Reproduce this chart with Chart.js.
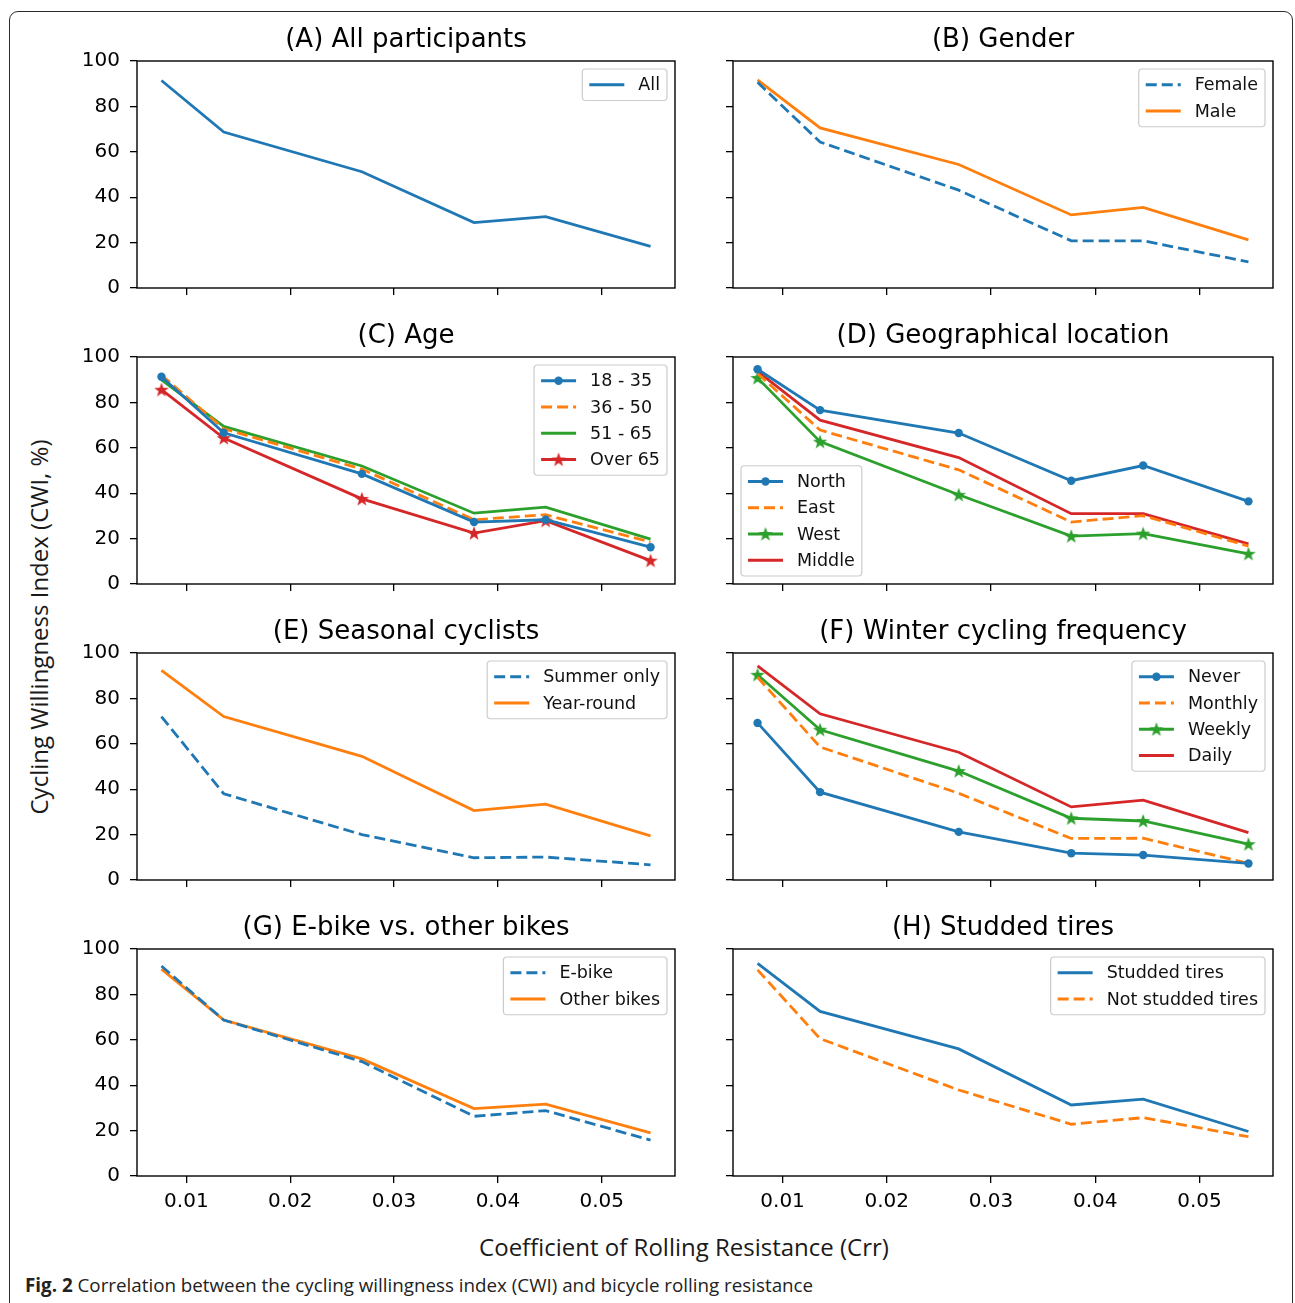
<!DOCTYPE html>
<html>
<head>
<meta charset="utf-8">
<script src="https://cdn.jsdelivr.net/npm/chart.js@4.4.1/dist/chart.umd.min.js"></script>
<style>
  html, body { margin: 0; padding: 0; background: #fff; overflow: hidden; }
  body { width: 1295px; height: 1303px; position: relative; }
  #frame { position: absolute; left: 9px; top: 11px; width: 1282px; height: 1310px; border: 1.5px solid #2b2b2b; border-radius: 9px; }
  canvas { position: absolute; }
  .axis-label { position: absolute; font-family: "Open Sans", sans-serif; font-size: 24px; color: #1a1a1a; white-space: nowrap; }
  #ylabel { left: 38px; top: 627px; transform: translate(-50%, -50%) rotate(-90deg); }
  #xlabel { left: 684px; top: 1246px; transform: translate(-50%, -50%); }
  #caption { position: absolute; left: 25px; top: 1285px; transform: translateY(-50%); font-family: "Open Sans", sans-serif; font-size: 18.8px; color: #222; white-space: nowrap; }
</style>
</head>
<body>
<div id="frame"></div>
<div class="axis-label" id="ylabel">Cycling Willingness Index (CWI, %)</div>
<div class="axis-label" id="xlabel">Coefficient of Rolling Resistance (Crr)</div>
<div id="caption"><b>Fig. 2</b> Correlation between the cycling willingness index (CWI) and bicycle rolling resistance</div>
<script>
// rolling resistance values shared by all panels
const crr = [0.0076, 0.0136, 0.0269, 0.0377, 0.0446, 0.0547];
const xTicks = [0.01, 0.02, 0.03, 0.04, 0.05];
const yTicks = [0, 20, 40, 60, 80, 100];

const allParticipants = [91.4, 68.7, 51.2, 28.8, 31.4, 18.3];
const female = [90.6, 64.3, 43.1, 20.8, 20.8, 11.5];
const male = [91.7, 70.5, 54.4, 32.2, 35.5, 21.2];
const age18to35 = [91.3, 66.6, 48.5, 27.3, 28.3, 16.2];
const age36to50 = [92.0, 68.4, 50.6, 28.3, 30.5, 18.5];
const age51to65 = [89.9, 69.4, 52.0, 31.2, 33.9, 19.8];
const ageOver65 = [85.6, 64.3, 37.5, 22.4, 27.9, 10.3];
const north = [94.6, 76.6, 66.5, 45.5, 52.2, 36.4];
const east = [92.7, 67.8, 50.3, 27.3, 30.1, 16.7];
const west = [90.8, 62.7, 39.3, 21.1, 22.2, 13.3];
const middle = [93.7, 72.2, 55.7, 31.0, 31.0, 17.7];
const summerOnly = [72.0, 38.0, 20.0, 9.8, 10.1, 6.7];
const yearRound = [92.4, 72.0, 54.5, 30.6, 33.4, 19.4];
const never = [69.2, 38.7, 21.2, 11.8, 11.0, 7.3];
const monthly = [89.3, 58.6, 38.2, 18.3, 18.4, 7.3];
const weekly = [90.4, 66.2, 48.0, 27.2, 26.0, 15.8];
const daily = [94.3, 73.2, 56.3, 32.2, 35.2, 20.9];
const eBike = [92.5, 68.7, 50.4, 26.3, 28.8, 15.8];
const otherBikes = [91.1, 68.7, 51.6, 29.7, 31.7, 19.0];
const studded = [93.7, 72.5, 56.0, 31.3, 33.9, 19.6];
const notStudded = [90.8, 60.5, 37.9, 22.8, 25.7, 17.3];

const BLUE = '#1f77b4', ORANGE = '#ff7f0e', GREEN = '#2ca02c', RED = '#d62728';

const panels = [
  { title: '(A) All participants', legend: 'upper right', series: [
    { label: 'All', data: allParticipants, color: BLUE }] },
  { title: '(B) Gender', legend: 'upper right', series: [
    { label: 'Female', data: female, color: BLUE, dashed: true },
    { label: 'Male', data: male, color: ORANGE }] },
  { title: '(C) Age', legend: 'upper right', series: [
    { label: '18 - 35', data: age18to35, color: BLUE, marker: 'circle' },
    { label: '36 - 50', data: age36to50, color: ORANGE, dashed: true },
    { label: '51 - 65', data: age51to65, color: GREEN },
    { label: 'Over 65', data: ageOver65, color: RED, marker: 'star' }] },
  { title: '(D) Geographical location', legend: 'lower left', series: [
    { label: 'North', data: north, color: BLUE, marker: 'circle' },
    { label: 'East', data: east, color: ORANGE, dashed: true },
    { label: 'West', data: west, color: GREEN, marker: 'star' },
    { label: 'Middle', data: middle, color: RED }] },
  { title: '(E) Seasonal cyclists', legend: 'upper right', series: [
    { label: 'Summer only', data: summerOnly, color: BLUE, dashed: true },
    { label: 'Year-round', data: yearRound, color: ORANGE }] },
  { title: '(F) Winter cycling frequency', legend: 'upper right', series: [
    { label: 'Never', data: never, color: BLUE, marker: 'circle' },
    { label: 'Monthly', data: monthly, color: ORANGE, dashed: true },
    { label: 'Weekly', data: weekly, color: GREEN, marker: 'star' },
    { label: 'Daily', data: daily, color: RED }] },
  { title: '(G) E-bike vs. other bikes', legend: 'upper right', series: [
    { label: 'E-bike', data: eBike, color: BLUE, dashed: true },
    { label: 'Other bikes', data: otherBikes, color: ORANGE }] },
  { title: '(H) Studded tires', legend: 'upper right', series: [
    { label: 'Studded tires', data: studded, color: BLUE },
    { label: 'Not studded tires', data: notStudded, color: ORANGE, dashed: true }] },
];

// grid geometry (plot area of each panel)
const colLeft = [137, 733];
const colWidth = [538, 540];
const rowTop = [61, 357, 653, 949];
const PLOT_H = 227;
const Y_AXIS_W = 75;
const TOP_SPACE = 45;
const RIGHT_PAD = 12;
const TICK_FONT = { family: 'DejaVu Sans', size: 20 };
const LEGEND_FS = 17.5;

const xSpan = Math.max(...crr) - Math.min(...crr);
const xMin = Math.min(...crr) - 0.05 * xSpan;
const xMax = Math.max(...crr) + 0.05 * xSpan;

const starCache = {};
function starImage(color) {
  if (starCache[color]) return starCache[color];
  const c = document.createElement('canvas');
  c.width = 18; c.height = 18;
  const g = c.getContext('2d');
  g.beginPath();
  for (let i = 0; i < 10; i++) {
    const r = i % 2 === 0 ? 7.6 : 3.1;
    const a = -Math.PI / 2 + i * Math.PI / 5;
    const px = 9 + r * Math.cos(a), py = 9.5 + r * Math.sin(a);
    if (i === 0) g.moveTo(px, py); else g.lineTo(px, py);
  }
  g.closePath();
  g.fillStyle = color;
  g.fill();
  starCache[color] = c;
  return c;
}

const boxPlugin = {
  id: 'boxPlugin',
  afterDatasetsDraw(chart) {
    const { ctx, chartArea: a } = chart;
    ctx.save();
    ctx.strokeStyle = '#000';
    ctx.lineWidth = 1.4;
    ctx.strokeRect(a.left, a.top, a.right - a.left, a.bottom - a.top);
    ctx.restore();
  }
};

const legendPlugin = {
  id: 'mplLegend',
  afterDraw(chart, args, opts) {
    const { ctx, chartArea: a } = chart;
    const fs = LEGEND_FS;
    const pad = 0.4 * fs, handle = 2 * fs, gap = 0.8 * fs, pitch = 1.5 * fs;
    const sets = chart.data.datasets;
    ctx.save();
    ctx.font = fs + 'px "DejaVu Sans"';
    const textW = Math.max(...sets.map(d => ctx.measureText(d.label).width));
    const w = pad + handle + gap + textW + pad;
    const h = 2 * pad + sets.length * fs + (sets.length - 1) * 0.5 * fs;
    const off = 8;
    let x, y;
    if (opts.position === 'lower left') { x = a.left + off; y = a.bottom - off - h; }
    else { x = a.right - off - w; y = a.top + off; }
    // rounded frame
    const r = 3.5;
    ctx.beginPath();
    ctx.moveTo(x + r, y);
    ctx.lineTo(x + w - r, y); ctx.quadraticCurveTo(x + w, y, x + w, y + r);
    ctx.lineTo(x + w, y + h - r); ctx.quadraticCurveTo(x + w, y + h, x + w - r, y + h);
    ctx.lineTo(x + r, y + h); ctx.quadraticCurveTo(x, y + h, x, y + h - r);
    ctx.lineTo(x, y + r); ctx.quadraticCurveTo(x, y, x + r, y);
    ctx.closePath();
    ctx.fillStyle = 'rgba(255,255,255,0.8)';
    ctx.fill();
    ctx.strokeStyle = '#cccccc';
    ctx.lineWidth = 1.2;
    ctx.stroke();
    sets.forEach((d, i) => {
      const cy = y + pad + fs / 2 + i * pitch;
      const hx = x + pad;
      ctx.beginPath();
      ctx.setLineDash(d.borderDash || []);
      ctx.strokeStyle = d.borderColor;
      ctx.lineWidth = d.borderWidth;
      ctx.moveTo(hx, cy); ctx.lineTo(hx + handle, cy);
      ctx.stroke();
      ctx.setLineDash([]);
      const mx = hx + handle / 2;
      if (d.marker === 'circle') {
        ctx.beginPath();
        ctx.fillStyle = d.borderColor;
        ctx.arc(mx, cy, d.pointRadius, 0, Math.PI * 2);
        ctx.fill();
      } else if (d.marker === 'star') {
        const img = d.pointStyle;
        ctx.drawImage(img, mx - img.width / 2, cy - img.height / 2);
      }
      ctx.fillStyle = '#111';
      ctx.textBaseline = 'middle';
      ctx.textAlign = 'left';
      ctx.fillText(d.label, hx + handle + gap, cy + 1);
    });
    ctx.restore();
  }
};

function noOverflow(scale) {
  scale.paddingTop = 0; scale.paddingBottom = 0;
  scale.paddingLeft = 0; scale.paddingRight = 0;
}

function makeChart(panel, idx) {
  const row = Math.floor(idx / 2), col = idx % 2;
  const bottomRow = row === 3;
  const xh = bottomRow ? 48 : 12;
  const w = colWidth[col] + Y_AXIS_W + RIGHT_PAD;
  const h = TOP_SPACE + PLOT_H + xh;
  const canvas = document.createElement('canvas');
  canvas.width = w; canvas.height = h;
  canvas.style.width = w + 'px'; canvas.style.height = h + 'px';
  canvas.style.left = (colLeft[col] - Y_AXIS_W) + 'px';
  canvas.style.top = (rowTop[row] - TOP_SPACE) + 'px';
  document.body.appendChild(canvas);

  const datasets = panel.series.map(s => ({
    label: s.label,
    data: s.data.map((v, i) => ({ x: crr[i], y: v })),
    borderColor: s.color,
    backgroundColor: s.color,
    borderWidth: 2.8,
    borderDash: s.dashed ? [11, 5] : [],
    marker: s.marker,
    pointStyle: s.marker === 'star' ? starImage(s.color) : 'circle',
    pointRadius: s.marker === 'star' ? 6 : (s.marker === 'circle' ? 4.2 : 0),
    pointBorderWidth: 0,
    tension: 0
  }));

  new Chart(canvas, {
    type: 'line',
    data: { datasets },
    options: {
      responsive: false,
      animation: false,
      devicePixelRatio: 1,
      layout: { padding: { top: TOP_SPACE - 36.2, right: RIGHT_PAD, left: 0, bottom: 0 } },
      plugins: {
        legend: { display: false },
        tooltip: { enabled: false },
        title: {
          display: true, text: panel.title, fullSize: false, color: '#000',
          font: { family: 'DejaVu Sans', size: 26, weight: 'normal', lineHeight: 1.2 },
          padding: { top: 0, bottom: 5 }
        },
        mplLegend: { position: panel.legend }
      },
      scales: {
        x: {
          type: 'linear', min: xMin, max: xMax,
          afterBuildTicks: scale => { scale.ticks = xTicks.map(v => ({ value: v })); },
          afterFit: scale => { scale.height = xh; noOverflow(scale); },
          border: { display: false },
          grid: { drawOnChartArea: false, drawTicks: true, tickLength: 7, color: '#000', lineWidth: 1.3 },
          ticks: {
            display: bottomRow, autoSkip: false, maxRotation: 0, padding: 7,
            color: '#000', font: TICK_FONT,
            callback: v => v.toFixed(2)
          }
        },
        y: {
          type: 'linear', min: 0, max: 100,
          afterBuildTicks: scale => { scale.ticks = yTicks.map(v => ({ value: v })); },
          afterFit: scale => { scale.width = Y_AXIS_W; noOverflow(scale); },
          border: { display: false },
          grid: { drawOnChartArea: false, drawTicks: true, tickLength: 7, color: '#000', lineWidth: 1.3 },
          ticks: { display: col === 0, padding: 10, color: '#000', font: TICK_FONT }
        }
      }
    },
    plugins: [boxPlugin, legendPlugin]
  });
}

panels.forEach(makeChart);
</script>
</body>
</html>
